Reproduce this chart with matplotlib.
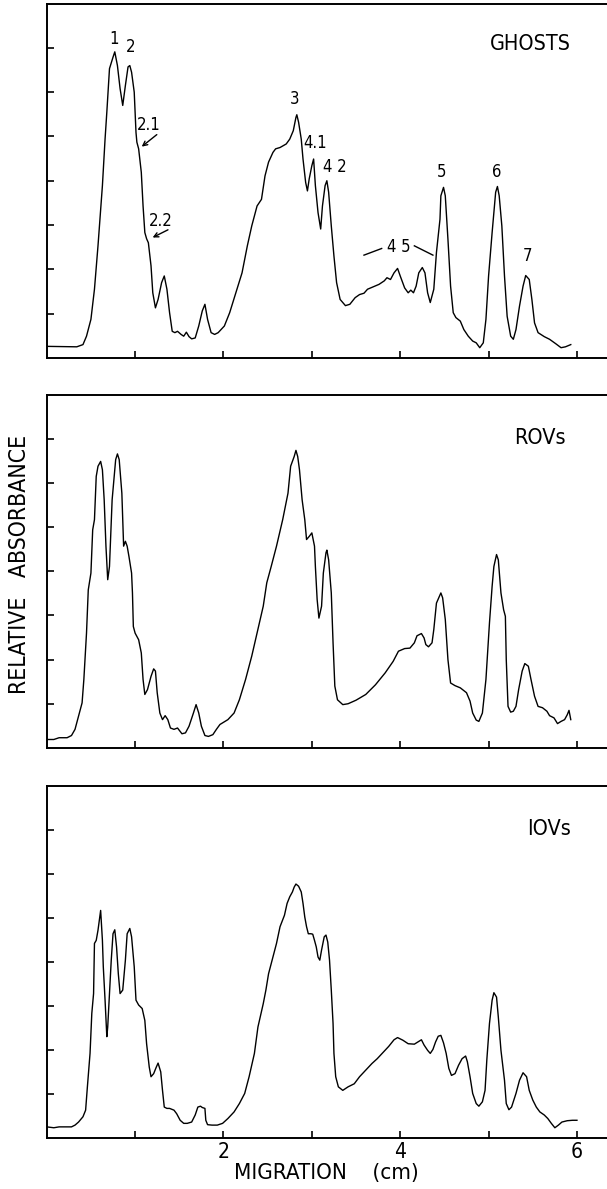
#!/usr/bin/env python3

"""Densitometer scans of SDS gels: ghosts, ROVs and IOVs."""

import matplotlib
matplotlib.use('Agg')
import matplotlib.pyplot as plt

plt.rcParams['font.family'] = ['DejaVu Sans']
plt.rcParams['font.stretch'] = 'condensed'

# Migration (cm) and relative absorbance.
ghost_x = [0.01, 0.34, 0.41, 0.45, 0.50, 0.54, 0.58, 0.63, 0.66, 0.68, 0.71, 0.75,
           0.77, 0.80, 0.83, 0.86, 0.89, 0.92, 0.94, 0.96, 0.99, 1.01, 1.02, 1.04,
           1.07, 1.09, 1.11, 1.13, 1.15, 1.18, 1.20, 1.23, 1.26, 1.30, 1.33, 1.36,
           1.39, 1.42, 1.45, 1.48, 1.52, 1.55, 1.58, 1.61, 1.64, 1.68, 1.72, 1.76,
           1.79, 1.82, 1.86, 1.90, 1.94, 2.01, 2.07, 2.14, 2.21, 2.27, 2.32, 2.38,
           2.43, 2.47, 2.51, 2.56, 2.59, 2.64, 2.71, 2.75, 2.79, 2.82, 2.83, 2.85,
           2.88, 2.90, 2.93, 2.95, 2.97, 3.00, 3.02, 3.04, 3.07, 3.10, 3.12, 3.15,
           3.17, 3.19, 3.22, 3.25, 3.28, 3.32, 3.38, 3.43, 3.49, 3.54, 3.59, 3.63,
           3.70, 3.76, 3.82, 3.85, 3.89, 3.93, 3.97, 4.00, 4.05, 4.09, 4.12, 4.15,
           4.18, 4.21, 4.25, 4.28, 4.31, 4.34, 4.38, 4.41, 4.45, 4.46, 4.49, 4.51,
           4.54, 4.57, 4.60, 4.63, 4.68, 4.72, 4.77, 4.82, 4.86, 4.90, 4.94, 4.97,
           5.00, 5.04, 5.06, 5.08, 5.10, 5.12, 5.15, 5.18, 5.21, 5.25, 5.28, 5.31,
           5.35, 5.39, 5.42, 5.46, 5.49, 5.52, 5.56, 5.63, 5.69, 5.76, 5.82, 5.87,
           5.93]
ghost_y = [0.26, 0.25, 0.30, 0.49, 0.87, 1.55, 2.53, 3.89, 4.94, 5.55, 6.53, 6.79,
           6.91, 6.60, 6.08, 5.70, 6.15, 6.57, 6.60, 6.45, 6.00, 5.09, 4.87, 4.72,
           4.19, 3.43, 2.83, 2.69, 2.60, 2.08, 1.47, 1.13, 1.32, 1.70, 1.85, 1.55,
           1.02, 0.60, 0.57, 0.60, 0.53, 0.49, 0.58, 0.48, 0.43, 0.45, 0.72, 1.06,
           1.21, 0.87, 0.57, 0.53, 0.57, 0.72, 1.02, 1.47, 1.92, 2.53, 2.98, 3.43,
           3.58, 4.11, 4.42, 4.64, 4.72, 4.75, 4.83, 4.94, 5.13, 5.43, 5.49, 5.32,
           4.94, 4.49, 3.96, 3.77, 4.04, 4.34, 4.49, 3.89, 3.28, 2.91, 3.43, 3.89,
           4.00, 3.74, 2.98, 2.30, 1.70, 1.32, 1.18, 1.21, 1.36, 1.43, 1.46, 1.55,
           1.61, 1.66, 1.74, 1.81, 1.77, 1.92, 2.02, 1.85, 1.58, 1.47, 1.53, 1.47,
           1.62, 1.92, 2.04, 1.92, 1.47, 1.25, 1.55, 2.38, 3.13, 3.66, 3.85, 3.66,
           2.68, 1.62, 1.02, 0.91, 0.83, 0.64, 0.49, 0.38, 0.34, 0.23, 0.34, 0.87,
           1.85, 2.83, 3.28, 3.74, 3.87, 3.66, 2.98, 1.85, 0.94, 0.49, 0.42, 0.64,
           1.17, 1.62, 1.86, 1.77, 1.32, 0.79, 0.57, 0.48, 0.42, 0.32, 0.23, 0.25,
           0.30]

rov_x = [0.01, 0.08, 0.14, 0.23, 0.28, 0.32, 0.36, 0.40, 0.42, 0.45, 0.47, 0.50,
         0.52, 0.54, 0.56, 0.58, 0.61, 0.63, 0.65, 0.67, 0.69, 0.71, 0.74, 0.76,
         0.78, 0.80, 0.82, 0.85, 0.86, 0.87, 0.89, 0.91, 0.93, 0.96, 0.97, 0.98,
         1.00, 1.04, 1.07, 1.09, 1.11, 1.14, 1.18, 1.21, 1.23, 1.25, 1.28, 1.31,
         1.34, 1.37, 1.40, 1.44, 1.48, 1.53, 1.57, 1.61, 1.66, 1.69, 1.72, 1.75,
         1.79, 1.83, 1.88, 1.92, 1.96, 2.05, 2.12, 2.18, 2.25, 2.32, 2.38, 2.45,
         2.49, 2.54, 2.60, 2.67, 2.73, 2.76, 2.80, 2.82, 2.84, 2.86, 2.89, 2.92,
         2.94, 2.97, 3.00, 3.03, 3.04, 3.06, 3.08, 3.11, 3.13, 3.16, 3.17, 3.19,
         3.22, 3.24, 3.26, 3.29, 3.35, 3.41, 3.50, 3.61, 3.72, 3.83, 3.92, 3.98,
         4.05, 4.11, 4.16, 4.19, 4.24, 4.27, 4.29, 4.32, 4.36, 4.38, 4.41, 4.46,
         4.48, 4.51, 4.54, 4.57, 4.62, 4.68, 4.75, 4.79, 4.82, 4.86, 4.89, 4.93,
         4.97, 5.01, 5.04, 5.06, 5.09, 5.11, 5.14, 5.17, 5.19, 5.20, 5.22, 5.25,
         5.28, 5.31, 5.34, 5.38, 5.41, 5.45, 5.48, 5.52, 5.56, 5.61, 5.66, 5.69,
         5.74, 5.78, 5.82, 5.86, 5.89, 5.91, 5.93]
rov_y = [0.19, 0.19, 0.23, 0.23, 0.28, 0.42, 0.72, 1.02, 1.55, 2.60, 3.58, 3.96,
         4.94, 5.17, 6.15, 6.38, 6.49, 6.30, 5.62, 4.57, 3.81, 4.11, 5.62, 6.08,
         6.53, 6.66, 6.53, 5.77, 5.17, 4.57, 4.68, 4.57, 4.34, 3.96, 3.51, 2.75,
         2.60, 2.45, 2.15, 1.55, 1.21, 1.32, 1.62, 1.79, 1.74, 1.25, 0.79, 0.64,
         0.73, 0.64, 0.45, 0.42, 0.45, 0.32, 0.34, 0.49, 0.79, 0.98, 0.79, 0.49,
         0.28, 0.26, 0.30, 0.42, 0.53, 0.64, 0.79, 1.09, 1.55, 2.08, 2.60, 3.21,
         3.74, 4.11, 4.57, 5.17, 5.77, 6.38, 6.60, 6.74, 6.60, 6.30, 5.62, 5.17,
         4.72, 4.79, 4.87, 4.57, 4.11, 3.36, 2.94, 3.21, 3.96, 4.42, 4.48, 4.26,
         3.51, 2.38, 1.40, 1.09, 0.98, 1.00, 1.08, 1.21, 1.43, 1.70, 1.96, 2.19,
         2.25, 2.26, 2.38, 2.54, 2.59, 2.49, 2.34, 2.29, 2.38, 2.68, 3.28, 3.51,
         3.40, 2.91, 2.00, 1.47, 1.41, 1.36, 1.25, 1.06, 0.79, 0.63, 0.60, 0.79,
         1.55, 2.83, 3.66, 4.11, 4.38, 4.26, 3.51, 3.13, 2.98, 2.00, 0.94, 0.81,
         0.83, 0.94, 1.32, 1.74, 1.91, 1.85, 1.55, 1.17, 0.94, 0.91, 0.83, 0.73,
         0.68, 0.55, 0.60, 0.64, 0.75, 0.85, 0.64]

iov_x = [0.00, 0.08, 0.14, 0.21, 0.28, 0.32, 0.36, 0.41, 0.44, 0.46, 0.49, 0.51,
         0.53, 0.54, 0.56, 0.58, 0.60, 0.61, 0.63, 0.64, 0.66, 0.68, 0.69, 0.71,
         0.73, 0.75, 0.77, 0.79, 0.81, 0.83, 0.86, 0.89, 0.91, 0.94, 0.96, 0.99,
         1.01, 1.04, 1.08, 1.11, 1.13, 1.16, 1.18, 1.21, 1.24, 1.26, 1.29, 1.31,
         1.33, 1.36, 1.39, 1.44, 1.47, 1.51, 1.55, 1.59, 1.64, 1.68, 1.71, 1.74,
         1.76, 1.79, 1.80, 1.82, 1.87, 1.93, 1.99, 2.05, 2.12, 2.18, 2.24, 2.29,
         2.35, 2.39, 2.45, 2.48, 2.51, 2.56, 2.60, 2.64, 2.69, 2.72, 2.75, 2.78,
         2.80, 2.82, 2.85, 2.88, 2.90, 2.92, 2.94, 2.96, 2.99, 3.01, 3.03, 3.05,
         3.07, 3.09, 3.11, 3.14, 3.16, 3.18, 3.20, 3.22, 3.24, 3.25, 3.27, 3.30,
         3.35, 3.41, 3.48, 3.54, 3.61, 3.68, 3.74, 3.81, 3.87, 3.93, 3.97, 4.03,
         4.09, 4.16, 4.20, 4.24, 4.27, 4.31, 4.34, 4.37, 4.40, 4.43, 4.46, 4.49,
         4.52, 4.55, 4.58, 4.62, 4.66, 4.70, 4.74, 4.76, 4.79, 4.82, 4.86, 4.89,
         4.93, 4.96, 4.98, 5.01, 5.04, 5.06, 5.09, 5.11, 5.14, 5.18, 5.20, 5.23,
         5.26, 5.31, 5.35, 5.39, 5.43, 5.46, 5.50, 5.54, 5.58, 5.63, 5.67, 5.71,
         5.75, 5.79, 5.83, 5.89, 5.95, 6.00]
iov_y = [0.25, 0.23, 0.25, 0.25, 0.25, 0.29, 0.36, 0.48, 0.63, 1.16, 1.92, 2.83,
         3.28, 4.42, 4.49, 4.72, 5.02, 5.17, 4.49, 3.89, 3.13, 2.30, 2.52, 3.28,
         4.04, 4.64, 4.73, 4.34, 3.73, 3.28, 3.36, 4.04, 4.64, 4.76, 4.57, 3.89,
         3.13, 3.02, 2.94, 2.67, 2.14, 1.61, 1.39, 1.46, 1.61, 1.70, 1.50, 1.08,
         0.70, 0.67, 0.67, 0.63, 0.55, 0.40, 0.33, 0.33, 0.36, 0.52, 0.70, 0.72,
         0.69, 0.67, 0.40, 0.30, 0.29, 0.29, 0.33, 0.44, 0.59, 0.78, 1.01, 1.39,
         1.92, 2.52, 3.05, 3.36, 3.73, 4.11, 4.42, 4.80, 5.06, 5.33, 5.48, 5.59,
         5.70, 5.77, 5.72, 5.59, 5.33, 5.02, 4.80, 4.64, 4.64, 4.63, 4.49, 4.34,
         4.11, 4.04, 4.27, 4.57, 4.61, 4.45, 4.04, 3.36, 2.60, 1.92, 1.39, 1.16,
         1.08, 1.16, 1.23, 1.39, 1.54, 1.69, 1.80, 1.95, 2.08, 2.23, 2.28, 2.22,
         2.14, 2.13, 2.18, 2.23, 2.11, 1.99, 1.92, 2.01, 2.18, 2.31, 2.33, 2.16,
         1.92, 1.58, 1.42, 1.46, 1.65, 1.80, 1.86, 1.73, 1.39, 1.01, 0.78, 0.72,
         0.82, 1.08, 1.77, 2.60, 3.13, 3.30, 3.20, 2.75, 1.99, 1.31, 0.78, 0.64,
         0.70, 1.01, 1.31, 1.48, 1.39, 1.08, 0.86, 0.70, 0.59, 0.52, 0.44, 0.33,
         0.23, 0.29, 0.36, 0.39, 0.40, 0.40]

panel_names = ['GHOSTS', 'ROVs', 'IOVs']

# Band labels on the ghost scan: (text, x, y)
ghost_bands = [('1', 0.76, 7.21), ('2', 0.95, 7.02), ('3', 2.80, 5.85),
               ('4.1', 3.04, 4.85), ('4 2', 3.26, 4.30), ('5', 4.47, 4.19),
               ('6', 5.09, 4.19), ('7', 5.44, 2.29)]
# Arrowed labels: (text, text x, text y, arrow tail x, y, head x, y)
ghost_arrows = [('2.1', 1.15, 5.25, 1.27, 5.08, 1.05, 4.73),
                ('2.2', 1.29, 3.09, 1.40, 2.92, 1.17, 2.69)]

fig = plt.figure(figsize=(6.07, 11.89), dpi=100)
boxes = [[0.077, 0.699, 0.923, 0.298],
         [0.077, 0.371, 0.923, 0.297],
         [0.077, 0.043, 0.923, 0.296]]
scans = [(ghost_x, ghost_y), (rov_x, rov_y), (iov_x, iov_y)]
name_pos = [(5.47, 7.09), (5.58, 7.02), (5.69, 7.03)]

axes = []
for box, (x, y), name, (nx, ny) in zip(boxes, scans, panel_names, name_pos):
    ax = fig.add_axes(box)
    ax.plot(x, y, color='black', lw=1.0)
    ax.set_xlim(0, 6.34)
    ax.set_ylim(0, 8.0)
    ax.spines['right'].set_visible(False)
    for s in ('left', 'bottom', 'top'):
        ax.spines[s].set_linewidth(1.4)
    ax.set_xticks([1, 2, 3, 4, 5, 6])
    ax.set_yticks([1, 2, 3, 4, 5, 6, 7])
    ax.tick_params(direction='in', length=5, width=1.2, labelleft=False,
                   labelbottom=False)
    ax.text(nx, ny, name, fontsize=15.5, ha='center', va='center')
    axes.append(ax)

ax = axes[0]
for label, x, y in ghost_bands:
    ax.text(x, y, label, fontsize=12, ha='center', va='center')
for label, tx, ty, x0, y0, x1, y1 in ghost_arrows:
    ax.text(tx, ty, label, fontsize=12, ha='center', va='center')
    ax.annotate('', xy=(x1, y1), xytext=(x0, y0),
                arrowprops=dict(arrowstyle='->', lw=1.0, color='black',
                                mutation_scale=8))
ax.text(3.98, 2.51, '4 5', fontsize=12, ha='center', va='center')
ax.plot([3.59, 3.79], [2.32, 2.47], color='black', lw=1.0)
ax.plot([4.16, 4.37], [2.53, 2.32], color='black', lw=1.0)

ax = axes[2]
ax.set_xticks([1, 2, 3, 4, 5, 6])
ax.set_xticklabels(['', '2', '', '4', '', '6'])
ax.tick_params(labelbottom=True, labelsize=15, pad=3)
ax.set_xlabel('MIGRATION    (cm)', fontsize=16, labelpad=1)

fig.text(0.032, 0.525, 'RELATIVE   ABSORBANCE', rotation=90, fontsize=16.5,
         ha='center', va='center')

fig.savefig('out.png', dpi=100)
